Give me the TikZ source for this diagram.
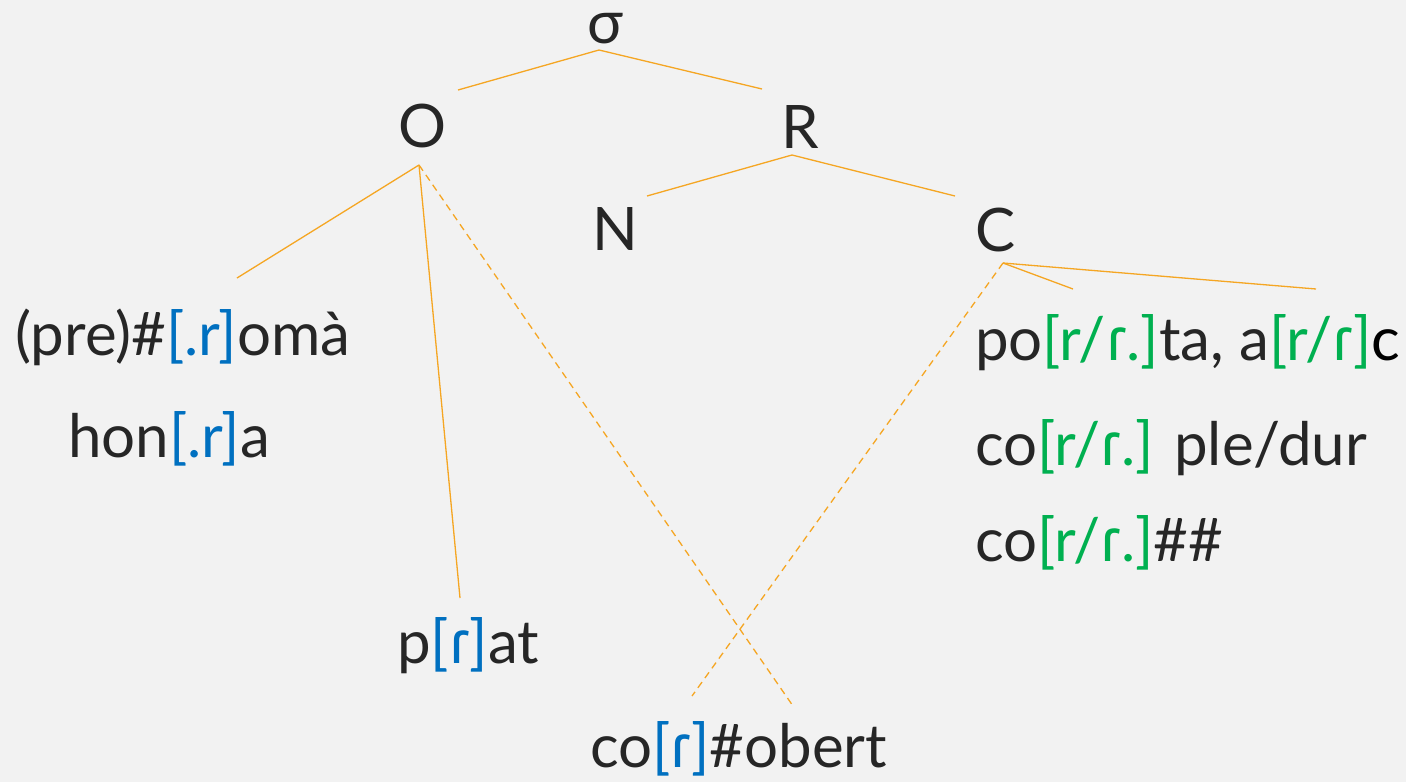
\documentclass[tikz,border=0pt]{standalone}
\usepackage{fontspec}
\setmainfont{Lato}
\newfontfamily\ipafont{Noto Sans}
\usepackage{xcolor}
\definecolor{myBg}{HTML}{F2F2F2}
\definecolor{myInk}{HTML}{262626}
\definecolor{myBlue}{HTML}{0070C0}
\definecolor{myGreen}{HTML}{00B050}
\definecolor{myOrange}{HTML}{F5A623}
\newcommand{\tap}{{\ipafont ɾ}}
\newcommand{\bl}[1]{\textcolor{myBlue}{#1}}
\newcommand{\gr}[1]{\textcolor{myGreen}{#1}}
\usepackage{tikz}
\usetikzlibrary{positioning}

\begin{document}
\begin{tikzpicture}[x=1pt, y=-1pt,
    font=\fontsize{60}{72}\selectfont,
    every node/.style={text=myInk, inner sep=0pt},
    branch/.style={myOrange, line width=1.3pt},
    link/.style={branch, dash pattern=on 7pt off 5pt}]
      % 背景
      \fill[myBg] (0,0) rectangle (1406,782);

      % 音節構造のノード
      \node[anchor=base] (sigma) at (605,43) {σ};
      \node[anchor=base] (O) at (423,147) {O};
      \node[anchor=base] (R) at (800,148) {R};
      \node[anchor=base] (N) at (615,250) {N};
      \node[anchor=base] (C) at (996,251) {C};

      % 例の語
      \node[anchor=base west] (roma) at (15,355) {(pre)\#\bl{[.r]}omà};
      \node[anchor=base west] (honra) at (68,457) {hon\bl{[.r]}a};
      \node[anchor=base west] (prat) at (397,663) {p\bl{[\tap]}at};
      \node[anchor=base west] (cobert) at (590,767) {co\bl{[\tap]}\#obert};
      \node[anchor=base west] (porta) at (975,360) {po\gr{[r/\tap.]}ta, a\gr{[r/\tap]}\textcolor{black}{c}};
      \node[anchor=base west] (comple) at (975,465) {co\gr{[r/\tap.]} ple/dur};
      \node[anchor=base west] (cofin) at (975,561) {co\gr{[r/\tap.]}\#\#};

      % 枝の端点
      \coordinate (sigma-b) at (599,50);
      \coordinate (O-t) at (458,90);
      \coordinate (R-t) at (762,89);
      \coordinate (R-b) at (792,155);
      \coordinate (N-t) at (647,196);
      \coordinate (C-t) at (955,196);
      \coordinate (O-b) at (419,165);
      \coordinate (C-b) at (1003,263);
      \coordinate (roma-t) at (237,278);
      \coordinate (prat-t) at (460,598);
      \coordinate (cobert-t) at (793,706);
      \coordinate (cobert-t2) at (692,696);
      \coordinate (porta-t) at (1073,289);
      \coordinate (porta-t2) at (1316,289);

      % σからOとRへ
      \draw[branch] (O-t) -- (sigma-b) -- (R-t);
      % RからNとCへ
      \draw[branch] (N-t) -- (R-b) -- (C-t);
      % Oから例へ
      \draw[branch] (O-b) -- (roma-t);
      \draw[branch] (O-b) -- (prat-t);
      \draw[link] (O-b) -- (cobert-t);
      % Cから例へ
      \draw[branch] (C-b) -- (porta-t);
      \draw[branch] (C-b) -- (porta-t2);
      \draw[link] (C-b) -- (cobert-t2);
    \end{tikzpicture}
\end{document}
